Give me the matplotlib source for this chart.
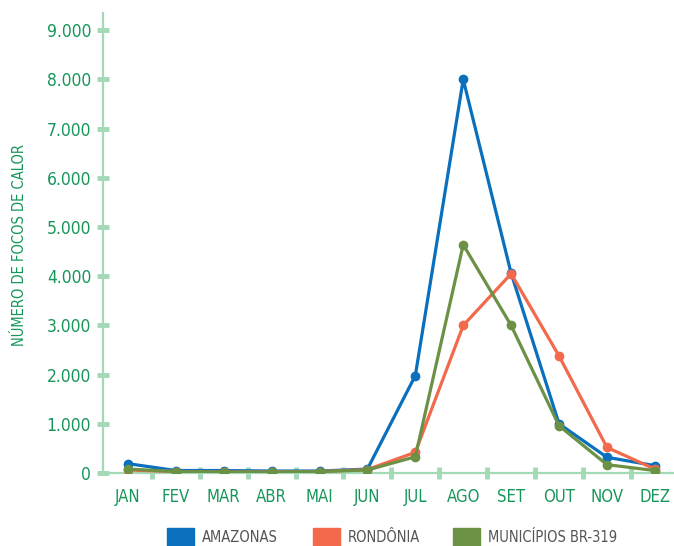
import matplotlib
matplotlib.use('Agg')
import matplotlib.pyplot as plt
from matplotlib.patches import Rectangle
from matplotlib.ticker import FuncFormatter

# ---- data ----
meses = ['JAN', 'FEV', 'MAR', 'ABR', 'MAI', 'JUN',
         'JUL', 'AGO', 'SET', 'OUT', 'NOV', 'DEZ']
amazonas = [190, 50, 50, 40, 40, 80, 1980, 8000, 4060, 1000, 320, 150]
rondonia = [60, 30, 20, 20, 30, 70, 420, 3000, 4050, 2380, 520, 80]
br319 = [80, 30, 20, 20, 30, 60, 330, 4640, 3000, 960, 170, 50]
yticks = [0, 1000, 2000, 3000, 4000, 5000, 6000, 7000, 8000, 9000]

series = [('AMAZONAS', amazonas, '#0a6fbd'),
          ('RONDÔNIA', rondonia, '#f2694c'),
          ('MUNICÍPIOS BR-319', br319, '#6b9145')]

GREEN_TXT = '#17965a'
AXIS_CLR = '#a3d9b5'

plt.rcParams['font.family'] = ['DejaVu Sans']
plt.rcParams['font.stretch'] = 'condensed'

fig = plt.figure(figsize=(6.74, 5.46), dpi=100)
ax = fig.add_axes([103 / 674, 1 - 473 / 546, 571 / 674, (473 - 13) / 546])

x = list(range(len(meses)))
for name, vals, c in series:
    ax.plot(x, vals, color=c, lw=2.3, marker='o', ms=6,
            solid_joinstyle='miter', zorder=3)

ax.set_xlim(-0.52, 11.4)
ax.set_ylim(0, 9350)

for s in ['top', 'right']:
    ax.spines[s].set_visible(False)
for s in ['left', 'bottom']:
    ax.spines[s].set_color(AXIS_CLR)
    ax.spines[s].set_linewidth(1.6)

ax.set_yticks(yticks)
ax.yaxis.set_major_formatter(FuncFormatter(lambda v, p: f'{int(v):,}'.replace(',', '.')))
ax.tick_params(axis='y', direction='inout', length=9, width=3.5,
               color=AXIS_CLR, labelcolor=GREEN_TXT, labelsize=12.5, pad=4)

ax.set_xticks(x)
ax.set_xticklabels(meses)
ax.set_xticks([i + 0.5 for i in range(11)], minor=True)
ax.tick_params(axis='x', which='major', length=0, labelcolor=GREEN_TXT,
               labelsize=12, pad=11)
ax.tick_params(axis='x', which='minor', direction='inout', length=9,
               width=3.5, color=AXIS_CLR)

fig.text(20 / 674, 1 - 245 / 546, 'NÚMERO DE FOCOS DE CALOR', rotation=90,
         ha='center', va='center', color=GREEN_TXT, fontsize=10.5)

# legend at the bottom
leg_items = [(167, 'AMAZONAS'), (313, 'RONDÔNIA'), (453, 'MUNICÍPIOS BR-319')]
for (px, label), (_, _, c) in zip(leg_items, series):
    fig.patches.append(Rectangle((px / 674, 0), 27 / 674, 18 / 546,
                                 transform=fig.transFigure, color=c))
    fig.text((px + 35) / 674, 1 - 537 / 546, label, ha='left', va='center',
             color='#555555', fontsize=10.5)

fig.savefig('out.png', dpi=100)
